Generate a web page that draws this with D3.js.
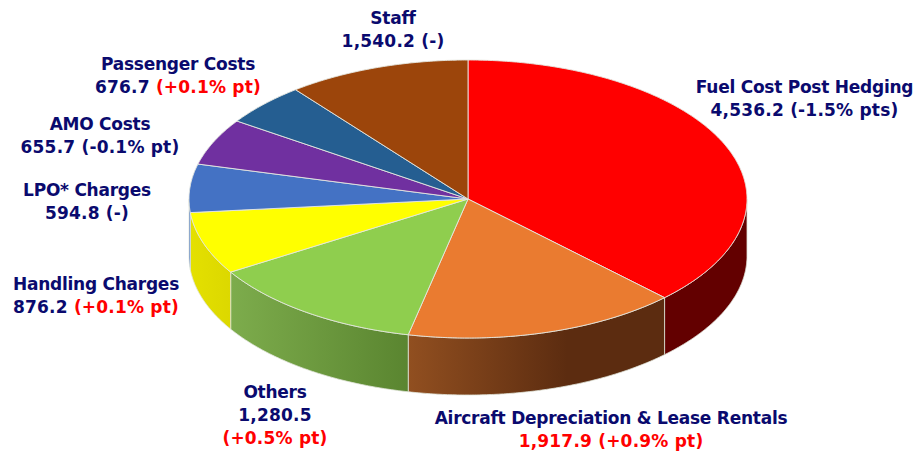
<!DOCTYPE html>
<html><head><meta charset="utf-8">
<script src="https://cdnjs.cloudflare.com/ajax/libs/d3/7.8.5/d3.min.js"></script>
<style>html,body{margin:0;padding:0;background:#fff}svg{display:block}</style>
</head><body><svg id="c" width="917" height="451"></svg>
<script>
// Slice values, clockwise from 12 o'clock, as drawn
const sliceValues = [4536.2, 1917.9, 1540.2, 876.2, 676.7, 655.7, 594.8, 1280.5];
const sliceTop = ["#ff0000","#ea7b30","#8fce4e","#ffff00","#4472c4","#7030a0","#255e91","#9c450b"];
const wallFrom = ["#630000","#914f20","#7dac4c","#e4e000","#4472c4","#7030a0","#255e91","#9c450b"];
const wallTo   = ["#630000","#5c2c10","#5a8530","#dcd800","#4472c4","#7030a0","#255e91","#9c450b"];
const wallEnd  = [1,0.62,1,1,1,1,1,1];
// Label texts: each line is a list of [text, isRed] runs
const labelLines = [
  [[["Staff",0]], [["1,540.2 (-)",0]]],
  [[["Passenger Costs",0]], [["676.7 ",0],["(+0.1% pt)",1]]],
  [[["AMO Costs",0]], [["655.7 (-0.1% pt)",0]]],
  [[["LPO* Charges",0]], [["594.8 (-)",0]]],
  [[["Handling Charges",0]], [["876.2 ",0],["(+0.1% pt)",1]]],
  [[["Others",0]], [["1,280.5",0]], [["(+0.5% pt)",1]]],
  [[["Aircraft Depreciation & Lease Rentals",0]], [["1,917.9 (+0.9% pt)",1]]],
  [[["Fuel Cost Post Hedging",0]], [["4,536.2 (-1.5% pts)",0]]]
];
const labelAnchors = [[393,23.5],[178,69.5],[100,129.5],[87,195.5],[96,289.5],[275,397.5],[611,423.5],[804.5,92.5]];

const W=917,H=451,cx=468,cy=199,rx=279,ry=139,depth=57;
const svg=d3.select("#c");
const defs=svg.append("defs");
const arcs=d3.pie().sort(null)(sliceValues);
const px=a=>cx+rx*Math.sin(a), py=a=>cy-ry*Math.cos(a);
const step=Math.PI/360;

// walls: visible front half only
arcs.forEach((d,i)=>{
  const a0=Math.max(d.startAngle,Math.PI/2), a1=Math.min(d.endAngle,3*Math.PI/2);
  if(a1<=a0) return;
  const as=d3.range(a0,a1,step).concat([a1]);
  const top=as.map(a=>[px(a),py(a)]);
  const bot=as.slice().reverse().map(a=>[px(a),py(a)+depth]);
  const xs=top.map(p=>p[0]);
  const id="w"+i;
  const g=defs.append("linearGradient").attr("id",id).attr("gradientUnits","userSpaceOnUse")
    .attr("x1",d3.min(xs)).attr("x2",d3.max(xs)).attr("y1",0).attr("y2",0);
  g.append("stop").attr("offset",0).attr("stop-color",wallFrom[i]);
  g.append("stop").attr("offset",wallEnd[i]).attr("stop-color",wallTo[i]);
  svg.append("path").attr("d",d3.line()(top.concat(bot))+"Z")
    .attr("fill",`url(#${id})`).attr("stroke","#dfe3d8").attr("stroke-width",0.8);
});
// tops
arcs.forEach((d,i)=>{
  const as=d3.range(d.startAngle,d.endAngle,step).concat([d.endAngle]);
  const pts=[[cx,cy]].concat(as.map(a=>[px(a),py(a)]));
  svg.append("path").attr("d",d3.line()(pts)+"Z").attr("fill",sliceTop[i])
    .attr("stroke","#e4e6e0").attr("stroke-width",0.9).attr("stroke-linejoin","round");
});
// labels: name lines run slightly tighter than value lines
const fs=17;
labelLines.forEach((lines,i)=>{
  const t=svg.append("text").attr("text-anchor","middle")
    .attr("font-family","'DejaVu Sans',Verdana,sans-serif").attr("font-weight","bold")
    .attr("font-size",fs);
  lines.forEach((runs,j)=>{
    runs.forEach((r,k)=>{
      const s=t.append("tspan").attr("fill",r[1]?"#ff0000":"#0a0a6e")
        .attr("letter-spacing",j===0?-0.25:0.2).text(r[0]);
      if(k===0) s.attr("x",labelAnchors[i][0]).attr("y",labelAnchors[i][1]+j*23);
    });
  });
});
</script></body></html>
